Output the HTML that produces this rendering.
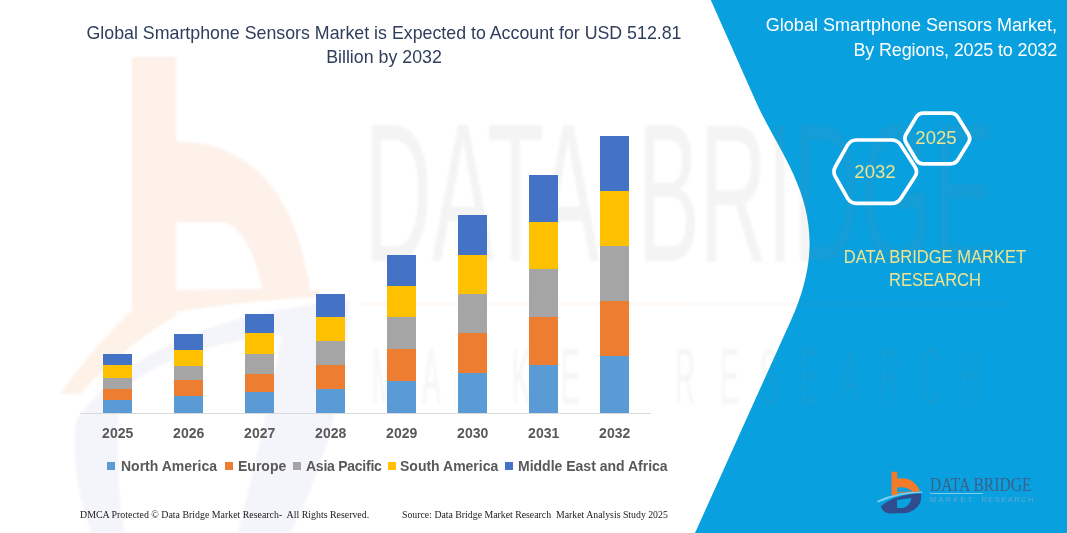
<!DOCTYPE html>
<html><head><meta charset="utf-8">
<style>
html,body{margin:0;padding:0;}
body{width:1067px;height:533px;position:relative;overflow:hidden;background:#fff;font-family:"Liberation Sans",sans-serif;}
.a{position:absolute;}
.t{position:absolute;white-space:nowrap;}
.bar{position:absolute;width:29px;}
.lb{background:#5B9BD5}.or{background:#ED7D31}.gr{background:#A5A5A5}.ye{background:#FFC000}.bl{background:#4472C4}
.yr{position:absolute;top:425px;width:40px;margin-left:0.7px;text-align:center;font-weight:700;font-size:14px;color:#595959;}
.lg{position:absolute;top:457.5px;font-weight:700;font-size:14px;color:#595959;white-space:nowrap;}
.sq{position:absolute;top:462px;width:8px;height:8px;}
</style></head><body>
<!-- background watermark + blue panel -->
<svg class="a" style="left:0;top:0" width="1067" height="533" viewBox="0 0 1067 533">
  <defs><filter id="bl1" x="0" y="0" width="1067" height="533" filterUnits="userSpaceOnUse"><feGaussianBlur stdDeviation="1.2"/></filter></defs>
  <path d="M710.8,0 L755.2,100 C783.6,164 838.3,215.2 791.1,320 L695,533 L1067,533 L1067,0 Z" fill="#09A0DF"/>
  <g filter="url(#bl1)">
    <path fill-rule="evenodd" fill="#FDF1EA" d="M132,57 L176,57 L176,142 Q240,140 278,195 Q303,235 311,296 L176,300 L176,312 L132,312 Z M176,222 L226,222 Q252,236 262,289 L176,290 Z"/>
    <path fill-rule="evenodd" fill="#F4F5FA" d="M76,420 Q150,318 350,300 Q345,430 290,533 L92,533 Q70,480 76,420 Z M120,392 Q175,345 282,335 Q262,440 238,533 L124,533 Q114,470 120,392 Z"/>
    <path fill="#FDF1E8" d="M60,394 Q95,345 132,310 L176,310 L176,316 Q125,345 80,394 Z"/>
    <path fill="#FDF1E8" d="M176,300 Q250,292 320,290 L318,297 Q250,300 176,312 Z"/>
    <text y="261" transform="scale(0.473,1)" font-family="Liberation Sans" font-size="197" fill="#888" fill-opacity="0.09"><tspan x="770.6">DATA</tspan><tspan x="1347.8">BRIDGE</tspan></text>
    <text x="1062.9 1205.7 1337.1 1462.9 1602.9 1731.4 1928.6 2057.1 2171.4 2285.7 2400.0 2514.3 2628.6 2742.9" y="404" transform="scale(0.35,1)" font-family="Liberation Sans" font-size="80" fill="#888" fill-opacity="0.08">MARKETRESEARCH</text>
    <rect x="360" y="303" width="340" height="2" fill="#FDF3EC"/>
    <rect x="700" y="303" width="310" height="2" fill="#888" fill-opacity="0.08"/>
  </g>
</svg>

<!-- Title -->
<div class="t" style="left:0;width:768px;top:21px;text-align:center;font-size:17.8px;line-height:24px;color:#2F3E5C;">Global Smartphone Sensors Market is Expected to Account for USD 512.81<br>Billion by 2032</div>

<!-- axis -->
<div class="a" style="left:80px;top:413px;width:571px;height:1px;background:#D9D9D9"></div>

<!-- bars: 2025 -->
<div class="bar bl" style="left:103px;top:354px;height:11px"></div>
<div class="bar ye" style="left:103px;top:365px;height:13px"></div>
<div class="bar gr" style="left:103px;top:378px;height:11px"></div>
<div class="bar or" style="left:103px;top:389px;height:11px"></div>
<div class="bar lb" style="left:103px;top:400px;height:13px"></div>
<!-- 2026 -->
<div class="bar bl" style="left:174px;top:334px;height:16px"></div>
<div class="bar ye" style="left:174px;top:350px;height:16px"></div>
<div class="bar gr" style="left:174px;top:366px;height:14px"></div>
<div class="bar or" style="left:174px;top:380px;height:16px"></div>
<div class="bar lb" style="left:174px;top:396px;height:17px"></div>
<!-- 2027 -->
<div class="bar bl" style="left:245px;top:314px;height:19px"></div>
<div class="bar ye" style="left:245px;top:333px;height:21px"></div>
<div class="bar gr" style="left:245px;top:354px;height:20px"></div>
<div class="bar or" style="left:245px;top:374px;height:18px"></div>
<div class="bar lb" style="left:245px;top:392px;height:21px"></div>
<!-- 2028 -->
<div class="bar bl" style="left:316px;top:294px;height:23px"></div>
<div class="bar ye" style="left:316px;top:317px;height:24px"></div>
<div class="bar gr" style="left:316px;top:341px;height:24px"></div>
<div class="bar or" style="left:316px;top:365px;height:24px"></div>
<div class="bar lb" style="left:316px;top:389px;height:24px"></div>
<!-- 2029 -->
<div class="bar bl" style="left:387px;top:255px;height:31px"></div>
<div class="bar ye" style="left:387px;top:286px;height:31px"></div>
<div class="bar gr" style="left:387px;top:317px;height:32px"></div>
<div class="bar or" style="left:387px;top:349px;height:32px"></div>
<div class="bar lb" style="left:387px;top:381px;height:32px"></div>
<!-- 2030 -->
<div class="bar bl" style="left:458px;top:215px;height:40px"></div>
<div class="bar ye" style="left:458px;top:255px;height:39px"></div>
<div class="bar gr" style="left:458px;top:294px;height:39px"></div>
<div class="bar or" style="left:458px;top:333px;height:40px"></div>
<div class="bar lb" style="left:458px;top:373px;height:40px"></div>
<!-- 2031 -->
<div class="bar bl" style="left:529px;top:175px;height:47px"></div>
<div class="bar ye" style="left:529px;top:222px;height:47px"></div>
<div class="bar gr" style="left:529px;top:269px;height:48px"></div>
<div class="bar or" style="left:529px;top:317px;height:48px"></div>
<div class="bar lb" style="left:529px;top:365px;height:48px"></div>
<!-- 2032 -->
<div class="bar bl" style="left:600px;top:136px;height:55px"></div>
<div class="bar ye" style="left:600px;top:191px;height:55px"></div>
<div class="bar gr" style="left:600px;top:246px;height:55px"></div>
<div class="bar or" style="left:600px;top:301px;height:55px"></div>
<div class="bar lb" style="left:600px;top:356px;height:57px"></div>

<!-- year labels -->
<div class="yr" style="left:97px">2025</div>
<div class="yr" style="left:168px">2026</div>
<div class="yr" style="left:239px">2027</div>
<div class="yr" style="left:310px">2028</div>
<div class="yr" style="left:381px">2029</div>
<div class="yr" style="left:452px">2030</div>
<div class="yr" style="left:523px">2031</div>
<div class="yr" style="left:594px">2032</div>

<!-- legend -->
<div class="sq lb" style="left:107px"></div><div class="lg" style="left:121px">North America</div>
<div class="sq or" style="left:225px"></div><div class="lg" style="left:238px">Europe</div>
<div class="sq gr" style="left:293px"></div><div class="lg" style="left:306px;letter-spacing:-0.25px">Asia Pacific</div>
<div class="sq ye" style="left:388px"></div><div class="lg" style="left:400px">South America</div>
<div class="sq bl" style="left:505px"></div><div class="lg" style="left:518px">Middle East and Africa</div>

<!-- footer -->
<div class="t" style="left:80px;top:509px;font-family:'Liberation Serif',serif;font-size:9.9px;color:#1a1a1a">DMCA Protected © Data Bridge Market Research-&nbsp; All Rights Reserved.</div>
<div class="t" style="left:402px;top:509px;font-family:'Liberation Serif',serif;font-size:9.8px;color:#1a1a1a">Source: Data Bridge Market Research&nbsp; Market Analysis Study 2025</div>

<!-- right panel -->
<div class="t" style="right:10px;top:13px;text-align:right;font-size:18px;line-height:24px;color:#fff">Global Smartphone Sensors Market,</div>
<div class="t" style="right:10px;top:38px;text-align:right;font-size:18px;line-height:24px;color:#fff;letter-spacing:-0.15px">By Regions, 2025 to 2032</div>

<svg class="a" style="left:0;top:0" width="1067" height="533" viewBox="0 0 1067 533">
  <path d="M847.5,145.2 Q850.5,140.0 856.5,140.0 L891.5,140.0 Q897.5,140.0 900.8,145.0 L914.9,166.7 Q918.2,171.7 914.9,176.7 L900.8,198.4 Q897.5,203.4 891.5,203.4 L856.5,203.4 Q850.5,203.4 847.5,198.2 L835.5,176.9 Q832.5,171.7 835.5,166.5 Z" fill="none" stroke="#fff" stroke-width="3.7"/>
  <path d="M916.0,117.5 Q918.5,113.2 923.5,113.2 L950.5,113.2 Q955.5,113.2 958.1,117.5 L968.4,134.2 Q971.0,138.5 968.4,142.8 L958.1,159.5 Q955.5,163.8 950.5,163.8 L923.5,163.8 Q918.5,163.8 916.0,159.5 L906.1,142.8 Q903.6,138.5 906.1,134.2 Z" fill="none" stroke="#fff" stroke-width="3.7"/>
</svg>
<div class="t" style="left:835px;width:80px;text-align:center;top:161px;font-size:18.6px;color:#EEE48E">2032</div>
<div class="t" style="left:896px;width:80px;text-align:center;top:127px;font-size:18.6px;color:#EEE48E">2025</div>

<div class="t" style="left:835px;width:200px;text-align:center;top:245.5px;font-size:18px;line-height:23.6px;color:#EEE48E;transform:scaleX(0.92)">DATA BRIDGE MARKET<br>RESEARCH</div>

<!-- logo -->
<svg class="a" style="left:0;top:0" width="1067" height="533" viewBox="0 0 1067 533">
  <path d="M877,501 Q898,491 922,491.5 L922,492.8 Q900,493 878,502.5 Z" fill="#7FD0F2"/>
  <path fill-rule="evenodd" fill="#2E4C8E" d="M881,506 Q896,494 921,493.5 Q923,508 907,513 L889,513.5 Q882,512 881,506 Z M897,500 L911.5,498 Q910,506 903,508 L897,508 Z"/>
  <path fill-rule="evenodd" fill="#F47B2A" d="M891.5,471.7 L897.2,471.7 L897.2,478.4 Q910,477 915.5,484 Q919,488 920,491.5 L897.2,493 L897.2,495 L891.5,495.5 Z M897.2,487.5 Q906,486 913,491.5 L897.2,492 Z"/>
</svg>
<div class="t" style="left:930px;top:474px;font-family:'Liberation Serif',serif;font-size:19.5px;color:#3D5F8C;transform:scaleX(0.8);transform-origin:0 0;letter-spacing:0px">DATA BRIDGE</div>
<div class="a" style="left:930px;top:493px;width:53px;height:1px;background:#7FCBEF"></div>
<div class="t" style="left:930px;top:495px;font-size:7.5px;color:#64A6D0;letter-spacing:2.2px">MARKET</div>
<div class="t" style="left:981.5px;top:495px;font-size:7.5px;color:#64A6D0;letter-spacing:1.45px">RESEARCH</div>

</body></html>
